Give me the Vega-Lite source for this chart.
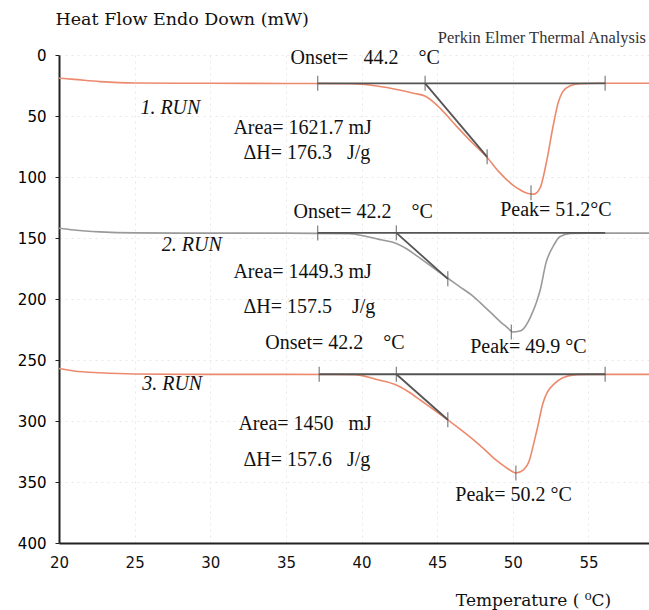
{
  "$schema": "https://vega.github.io/schema/vega-lite/v6.json",
  "width": 590,
  "height": 488,
  "autosize": {"type": "none"},
  "padding": {"left": 59, "top": 55, "right": 0, "bottom": 67},
  "background": "white",
  "config": {"view": {"stroke": null}},
  "datasets": {
    "curves": [
      {"run": "1", "T": 20, "v": 19}, {"run": "1", "T": 21, "v": 20}, {"run": "1", "T": 22.7, "v": 21.8}, {"run": "1", "T": 25, "v": 23}, {"run": "1", "T": 30, "v": 23.2}, {"run": "1", "T": 35, "v": 23.3}, {"run": "1", "T": 39.2, "v": 23.6}, {"run": "1", "T": 41, "v": 25.4}, {"run": "1", "T": 42.5, "v": 28.7}, {"run": "1", "T": 43.5, "v": 31.5}, {"run": "1", "T": 44.25, "v": 34}, {"run": "1", "T": 45.2, "v": 43.7}, {"run": "1", "T": 46.3, "v": 58.7}, {"run": "1", "T": 47.4, "v": 73}, {"run": "1", "T": 48.3, "v": 84}, {"run": "1", "T": 49.1, "v": 96}, {"run": "1", "T": 50, "v": 106.6}, {"run": "1", "T": 50.5, "v": 110.7}, {"run": "1", "T": 51.0, "v": 113.5}, {"run": "1", "T": 51.4, "v": 114}, {"run": "1", "T": 51.8, "v": 109}, {"run": "1", "T": 52.25, "v": 86}, {"run": "1", "T": 52.65, "v": 59}, {"run": "1", "T": 53.0, "v": 39}, {"run": "1", "T": 53.3, "v": 30}, {"run": "1", "T": 53.75, "v": 25.4}, {"run": "1", "T": 54.4, "v": 23.6}, {"run": "1", "T": 55.5, "v": 23.2}, {"run": "1", "T": 59, "v": 23.2},
      {"run": "2", "T": 20, "v": 142}, {"run": "2", "T": 21, "v": 143.5}, {"run": "2", "T": 22.7, "v": 145}, {"run": "2", "T": 25, "v": 145.8}, {"run": "2", "T": 30, "v": 146}, {"run": "2", "T": 35, "v": 146}, {"run": "2", "T": 39.2, "v": 146.5}, {"run": "2", "T": 40.4, "v": 149}, {"run": "2", "T": 41.3, "v": 151.5}, {"run": "2", "T": 42.3, "v": 154.5}, {"run": "2", "T": 43.0, "v": 159}, {"run": "2", "T": 43.7, "v": 165}, {"run": "2", "T": 44.7, "v": 174}, {"run": "2", "T": 45.7, "v": 183}, {"run": "2", "T": 46.5, "v": 190}, {"run": "2", "T": 47.4, "v": 198}, {"run": "2", "T": 48.1, "v": 206}, {"run": "2", "T": 48.7, "v": 213}, {"run": "2", "T": 49.2, "v": 219}, {"run": "2", "T": 49.6, "v": 223}, {"run": "2", "T": 50.0, "v": 227}, {"run": "2", "T": 50.4, "v": 226.5}, {"run": "2", "T": 50.7, "v": 224.5}, {"run": "2", "T": 51.0, "v": 219}, {"run": "2", "T": 51.3, "v": 211}, {"run": "2", "T": 51.55, "v": 203}, {"run": "2", "T": 51.8, "v": 193}, {"run": "2", "T": 52.2, "v": 170}, {"run": "2", "T": 52.7, "v": 156}, {"run": "2", "T": 53.1, "v": 149}, {"run": "2", "T": 53.8, "v": 146.3}, {"run": "2", "T": 55, "v": 146}, {"run": "2", "T": 59, "v": 146},
      {"run": "3", "T": 20, "v": 257}, {"run": "3", "T": 21, "v": 259}, {"run": "3", "T": 22.7, "v": 260.5}, {"run": "3", "T": 25, "v": 261.5}, {"run": "3", "T": 30, "v": 261.8}, {"run": "3", "T": 35, "v": 261.8}, {"run": "3", "T": 39.5, "v": 262}, {"run": "3", "T": 41, "v": 266}, {"run": "3", "T": 42.3, "v": 270.5}, {"run": "3", "T": 43.1, "v": 276}, {"run": "3", "T": 43.9, "v": 283}, {"run": "3", "T": 44.8, "v": 291}, {"run": "3", "T": 45.7, "v": 299}, {"run": "3", "T": 46.6, "v": 307.5}, {"run": "3", "T": 47.4, "v": 315.5}, {"run": "3", "T": 48.1, "v": 323}, {"run": "3", "T": 48.7, "v": 330}, {"run": "3", "T": 49.2, "v": 335}, {"run": "3", "T": 49.6, "v": 338.5}, {"run": "3", "T": 50.2, "v": 342.6}, {"run": "3", "T": 50.7, "v": 340}, {"run": "3", "T": 51.1, "v": 332}, {"run": "3", "T": 51.35, "v": 320}, {"run": "3", "T": 51.6, "v": 307}, {"run": "3", "T": 52.0, "v": 285}, {"run": "3", "T": 52.3, "v": 276}, {"run": "3", "T": 52.7, "v": 270}, {"run": "3", "T": 53.3, "v": 264.5}, {"run": "3", "T": 54.2, "v": 262}, {"run": "3", "T": 55, "v": 261.8}, {"run": "3", "T": 59, "v": 261.8}
    ],
    "segments": [
      {"seg": "b1", "xa": 37.1, "ya": 23.2, "xb": 56.1, "yb": 23.2},
      {"seg": "t1", "xa": 44.2, "ya": 23.2, "xb": 48.3, "yb": 83.5},
      {"seg": "b2", "xa": 37.1, "ya": 145.8, "xb": 56.1, "yb": 145.8},
      {"seg": "t2", "xa": 42.3, "ya": 145.8, "xb": 45.7, "yb": 183.5},
      {"seg": "b3", "xa": 37.2, "ya": 261.7, "xb": 56.1, "yb": 261.7},
      {"seg": "t3", "xa": 42.3, "ya": 261.7, "xb": 45.7, "yb": 299}
    ],
    "ticks": [
      {"T": 37.1, "v": 23.2}, {"T": 44.2, "v": 23.2}, {"T": 56.1, "v": 23.2}, {"T": 48.3, "v": 83.5}, {"T": 51.2, "v": 113},
      {"T": 37.1, "v": 145.8}, {"T": 42.3, "v": 145.8}, {"T": 45.7, "v": 183.5}, {"T": 49.9, "v": 227},
      {"T": 37.2, "v": 261.7}, {"T": 42.3, "v": 261.7}, {"T": 56.1, "v": 261.7}, {"T": 45.7, "v": 299}, {"T": 50.2, "v": 342.6}
    ],
    "runs": [
      {"label": "1. RUN", "T": 25.38, "v": 43.4},
      {"label": "2. RUN", "T": 26.8, "v": 156},
      {"label": "3. RUN", "T": 25.5, "v": 269.7}
    ],
    "labels": [
      {"label": "Area= 1621.7  mJ", "T": 31.53, "v": 59.8},
      {"label": "ΔH= 176.3\u00a0\u00a0 J/g", "T": 32.19, "v": 80.3},
      {"label": "Onset=\u00a0\u00a0 44.2\u00a0\u00a0\u00a0 °C", "T": 35.3, "v": 2.5},
      {"label": "Onset= 42.2\u00a0\u00a0\u00a0 °C", "T": 35.5, "v": 128.7},
      {"label": "Peak= 51.2°C", "T": 49.16, "v": 127},
      {"label": "Area= 1449.3  mJ", "T": 31.53, "v": 177.9},
      {"label": "ΔH= 157.5\u00a0\u00a0\u00a0 J/g", "T": 32.19, "v": 206.6},
      {"label": "Onset= 42.2\u00a0\u00a0\u00a0 °C", "T": 33.64, "v": 236},
      {"label": "Peak= 49.9 °C", "T": 47.18, "v": 239.3},
      {"label": "Area= 1450\u00a0\u00a0 mJ", "T": 31.86, "v": 302.5},
      {"label": "ΔH= 157.6\u00a0\u00a0 J/g", "T": 32.19, "v": 331.9},
      {"label": "Peak= 50.2 °C", "T": 46.2, "v": 360.6}
    ],
    "brand": [{"label": "Perkin Elmer Thermal Analysis", "T": 58.8, "v": -14}]
  },
  "layer": [
    {
      "data": {"name": "curves"},
      "mark": {"type": "line", "interpolate": "monotone", "strokeWidth": 1.6},
      "encoding": {
        "x": {"field": "T", "type": "quantitative", "scale": {"domain": [20, 59], "nice": false, "zero": false},
          "axis": {"values": [20, 25, 30, 35, 40, 45, 50, 55], "grid": true, "gridColor": "#e8e8e8", "gridDash": [2, 4], "domainColor": "#222", "domainWidth": 2, "ticks": false, "labelFlush": false, "labelPadding": 12, "labelFont": "DejaVu Sans", "labelFontSize": 15, "labelColor": "#111",
            "title": "Temperature ( ⁰C)", "titleFont": "DejaVu Serif", "titleFontSize": 17, "titleFontWeight": "normal", "titleColor": "#111", "titleX": 474, "titleY": 57, "titleBaseline": "middle", "titleAlign": "center"}},
        "y": {"field": "v", "type": "quantitative", "scale": {"domain": [0, 400], "reverse": true, "nice": false, "zero": false},
          "axis": {"values": [0, 50, 100, 150, 200, 250, 300, 350, 400], "grid": true, "gridColor": "#e8e8e8", "gridDash": [2, 4], "domainColor": "#222", "domainWidth": 2, "tickSize": 4, "tickColor": "#222", "labelFlush": false, "labelPadding": 9, "labelFont": "DejaVu Sans", "labelFontSize": 15, "labelColor": "#000",
            "title": "Heat Flow Endo Down (mW)", "titleAngle": 0, "titleFont": "DejaVu Serif", "titleFontSize": 17.5, "titleFontWeight": "normal", "titleColor": "#111", "titleAlign": "left", "titleBaseline": "middle", "titleX": -4, "titleY": -36}},
        "color": {"field": "run", "type": "nominal", "scale": {"domain": ["1", "2", "3"], "range": ["#ec8a6e", "#9a9a9a", "#ec8a6e"]}, "legend": null}
      }
    },
    {
      "data": {"name": "segments"},
      "mark": {"type": "rule", "color": "#555555", "strokeWidth": 1.8},
      "encoding": {
        "x": {"field": "xa", "type": "quantitative"},
        "y": {"field": "ya", "type": "quantitative"},
        "x2": {"field": "xb"},
        "y2": {"field": "yb"}
      }
    },
    {
      "data": {"name": "ticks"},
      "mark": {"type": "tick", "orient": "vertical", "size": 15, "thickness": 1.3, "color": "#555555"},
      "encoding": {
        "x": {"field": "T", "type": "quantitative"},
        "y": {"field": "v", "type": "quantitative"}
      }
    },
    {
      "data": {"name": "runs"},
      "mark": {"type": "text", "align": "left", "baseline": "middle", "font": "Liberation Serif", "fontSize": 20, "fontStyle": "italic", "color": "#111"},
      "encoding": {
        "x": {"field": "T", "type": "quantitative"},
        "y": {"field": "v", "type": "quantitative"},
        "text": {"field": "label"}
      }
    },
    {
      "data": {"name": "labels"},
      "mark": {"type": "text", "align": "left", "baseline": "middle", "font": "Liberation Serif", "fontSize": 20, "color": "#111"},
      "encoding": {
        "x": {"field": "T", "type": "quantitative"},
        "y": {"field": "v", "type": "quantitative"},
        "text": {"field": "label"}
      }
    },
    {
      "data": {"name": "brand"},
      "mark": {"type": "text", "align": "right", "baseline": "middle", "font": "Liberation Serif", "fontSize": 16.5, "color": "#333"},
      "encoding": {
        "x": {"field": "T", "type": "quantitative"},
        "y": {"field": "v", "type": "quantitative"},
        "text": {"field": "label"}
      }
    }
  ]
}
